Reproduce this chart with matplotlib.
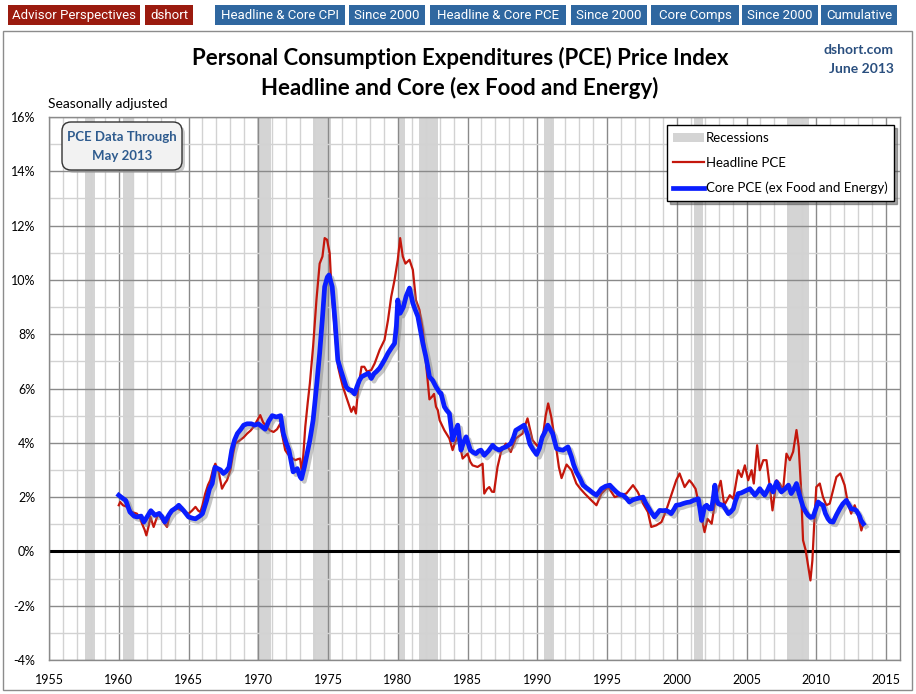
import matplotlib
matplotlib.use("Agg")
import matplotlib.pyplot as plt
import matplotlib.patheffects as pe
from matplotlib.patches import Rectangle, FancyBboxPatch, Patch
from matplotlib.lines import Line2D

# ---------------- data ----------------
core_years = [1960.0, 1960.3, 1960.5, 1960.8, 1961.1, 1961.3, 1961.6, 1961.8, 1962.0, 1962.3, 1962.6, 1962.9,
              1963.1, 1963.3, 1963.6, 1963.8, 1964.1, 1964.3, 1964.65, 1965.0, 1965.3, 1965.5, 1965.8, 1966.0,
              1966.3, 1966.5, 1966.7, 1966.9, 1967.1, 1967.3, 1967.5, 1967.7, 1967.9, 1968.1, 1968.3, 1968.5,
              1968.75, 1968.95, 1969.2, 1969.5, 1969.75, 1970.0, 1970.25, 1970.5, 1970.75, 1971.0, 1971.3, 1971.6,
              1971.8, 1972.0, 1972.2, 1972.4, 1972.5, 1972.8, 1973.0, 1973.1, 1973.3, 1973.5, 1973.7, 1973.93,
              1974.2, 1974.4, 1974.6, 1974.76, 1974.95, 1975.07, 1975.3, 1975.5, 1975.7, 1975.9, 1976.07, 1976.3,
              1976.5, 1976.67, 1976.9, 1977.07, 1977.25, 1977.4, 1977.65, 1977.9, 1978.1, 1978.3, 1978.46, 1978.7,
              1978.9, 1979.1, 1979.3, 1979.55, 1979.77, 1979.9, 1980.0, 1980.17, 1980.4, 1980.6, 1980.84, 1981.08,
              1981.25, 1981.44, 1981.6, 1981.8, 1982.0, 1982.15, 1982.27, 1982.5, 1982.74, 1983.0, 1983.1, 1983.34,
              1983.5, 1983.7, 1983.93, 1984.1, 1984.3, 1984.53, 1984.7, 1984.9, 1985.2, 1985.4, 1985.6, 1985.8,
              1985.96, 1986.2, 1986.5, 1986.8, 1987.0, 1987.27, 1987.5, 1987.75, 1988.1, 1988.3, 1988.46, 1988.75,
              1989.06, 1989.3, 1989.47, 1989.7, 1989.95, 1990.15, 1990.35, 1990.55, 1990.75, 1991.1, 1991.38, 1991.6,
              1991.85, 1992.2, 1992.45, 1992.6, 1992.8, 1993.05, 1993.28, 1993.5, 1993.76, 1994.0, 1994.24, 1994.6,
              1994.9, 1995.2, 1995.45, 1995.67, 1995.9, 1996.14, 1996.4, 1996.6, 1996.85, 1997.1, 1997.35, 1997.58,
              1997.75, 1997.93, 1998.15, 1998.4, 1998.6, 1998.77, 1999.0, 1999.24, 1999.45, 1999.6, 1999.8, 1999.96,
              2000.23, 2000.44, 2000.7, 2000.95, 2001.2, 2001.54, 2001.65, 2001.78, 2001.99, 2002.14, 2002.34, 2002.5,
              2002.65, 2002.73, 2002.85, 2002.97, 2003.15, 2003.33, 2003.5, 2003.7, 2003.85, 2004.05, 2004.2, 2004.4,
              2004.6, 2004.76, 2005.0, 2005.24, 2005.4, 2005.6, 2005.8, 2005.95, 2006.1, 2006.3, 2006.5, 2006.67,
              2006.9, 2007.15, 2007.3, 2007.5, 2007.75, 2008.0, 2008.2, 2008.4, 2008.58, 2008.8, 2009.05, 2009.25,
              2009.41, 2009.6, 2009.77, 2009.95, 2010.13, 2010.3, 2010.48, 2010.65, 2010.84, 2011.0, 2011.2, 2011.45,
              2011.68, 2011.9, 2012.15, 2012.3, 2012.5, 2012.7, 2012.87, 2013.1, 2013.2, 2013.37]
core_pce = [2.07, 1.95, 1.88, 1.45, 1.3, 1.27, 1.3, 1.08, 1.25, 1.5, 1.33, 1.4,
            1.27, 1.08, 1.35, 1.5, 1.6, 1.7, 1.5, 1.27, 1.22, 1.2, 1.3, 1.39,
            1.88, 2.3, 2.5, 3.1, 3.05, 3.0, 2.87, 2.95, 3.1, 3.73, 4.1, 4.34,
            4.5, 4.65, 4.7, 4.7, 4.65, 4.7, 4.6, 4.5, 4.8, 5.0, 4.95, 5.0,
            4.34, 4.0, 3.73, 3.2, 2.93, 3.05, 2.75, 2.68, 3.1, 3.6, 4.1, 4.83,
            6.2, 7.3, 8.6, 9.75, 10.1, 10.18, 9.75, 8.5, 7.05, 6.7, 6.43, 6.06,
            5.95, 5.94, 5.8, 6.06, 6.3, 6.43, 6.5, 6.56, 6.37, 6.55, 6.62, 6.75,
            6.92, 7.1, 7.3, 7.5, 7.66, 8.3, 9.26, 8.77, 9.0, 9.4, 9.7, 9.14,
            8.9, 8.65, 8.2, 7.66, 7.2, 6.8, 6.43, 6.3, 6.06, 5.85, 5.82, 5.33,
            5.2, 5.08, 4.1, 4.4, 4.65, 3.73, 4.0, 4.22, 3.73, 3.65, 3.6, 3.7,
            3.73, 3.54, 3.7, 3.91, 3.8, 3.73, 3.8, 3.85, 3.97, 4.2, 4.46, 4.55,
            4.65, 4.3, 3.95, 3.75, 3.57, 3.8, 4.2, 4.4, 4.65, 4.34, 3.79, 3.75,
            3.73, 3.85, 3.48, 3.2, 2.93, 2.7, 2.44, 2.35, 2.25, 2.15, 2.07, 2.31,
            2.4, 2.44, 2.3, 2.19, 2.1, 2.07, 1.95, 1.82, 1.9, 1.94, 1.97, 2.0,
            1.8, 1.64, 1.45, 1.27, 1.4, 1.51, 1.5, 1.51, 1.45, 1.39, 1.55, 1.7,
            1.72, 1.76, 1.8, 1.82, 1.88, 1.94, 1.6, 1.14, 1.64, 1.7, 1.57, 1.57,
            2.1, 2.44, 1.9, 1.76, 1.72, 1.7, 1.55, 1.39, 1.45, 1.57, 1.85, 2.13,
            2.15, 2.19, 2.25, 2.31, 2.2, 2.07, 2.2, 2.31, 2.2, 2.07, 2.25, 2.44,
            2.19, 2.56, 2.35, 2.19, 2.3, 2.44, 2.13, 2.3, 2.5, 2.07, 1.64, 1.45,
            1.33, 1.25, 1.27, 1.55, 1.82, 1.75, 1.7, 1.4, 1.2, 1.1, 1.08, 1.35,
            1.57, 1.75, 1.88, 1.75, 1.57, 1.55, 1.51, 1.3, 1.15, 1.02]

head_years = [1960.0, 1960.1, 1960.3, 1960.6, 1960.95, 1961.3, 1961.5, 1961.67, 1961.85, 1961.98, 1962.15, 1962.27,
              1962.5, 1962.7, 1962.86, 1963.05, 1963.2, 1963.46, 1963.7, 1964.06, 1964.3, 1964.5, 1964.75, 1965.0,
              1965.25, 1965.5, 1965.7, 1965.85, 1966.0, 1966.2, 1966.4, 1966.56, 1966.75, 1966.92, 1967.16, 1967.4,
              1967.6, 1967.76, 1968.0, 1968.2, 1968.35, 1968.7, 1968.95, 1969.2, 1969.45, 1969.67, 1969.9, 1970.14,
              1970.35, 1970.6, 1970.85, 1971.1, 1971.35, 1971.57, 1971.75, 1971.93, 1972.1, 1972.3, 1972.65, 1972.85,
              1973.0, 1973.13, 1973.25, 1973.37, 1973.55, 1973.7, 1973.93, 1974.17, 1974.4, 1974.6, 1974.76, 1974.93,
              1975.12, 1975.24, 1975.48, 1975.72, 1975.9, 1976.07, 1976.3, 1976.55, 1976.67, 1976.84, 1977.0, 1977.15,
              1977.4, 1977.6, 1977.8, 1978.1, 1978.34, 1978.7, 1979.05, 1979.3, 1979.53, 1979.77, 1980.0, 1980.17,
              1980.36, 1980.55, 1980.84, 1981.08, 1981.3, 1981.55, 1981.8, 1982.03, 1982.27, 1982.46, 1982.6, 1982.74,
              1982.87, 1983.0, 1983.34, 1983.7, 1983.93, 1984.1, 1984.3, 1984.5, 1984.65, 1985.0, 1985.2, 1985.36,
              1985.72, 1986.08, 1986.2, 1986.4, 1986.56, 1986.75, 1986.9, 1987.15, 1987.4, 1987.75, 1988.1, 1988.46,
              1988.7, 1988.94, 1989.1, 1989.3, 1989.66, 1990.0, 1990.2, 1990.42, 1990.6, 1990.78, 1991.0, 1991.2,
              1991.38, 1991.55, 1991.74, 1992.1, 1992.45, 1992.8, 1993.1, 1993.4, 1993.88, 1994.24, 1994.6, 1995.07,
              1995.3, 1995.55, 1995.9, 1996.38, 1996.86, 1997.2, 1997.58, 1997.93, 1998.17, 1998.53, 1998.9, 1999.24,
              1999.6, 1999.96, 2000.2, 2000.56, 2000.9, 2001.1, 2001.35, 2001.5, 2001.75, 2001.99, 2002.2, 2002.5,
              2002.8, 2003.15, 2003.4, 2003.8, 2004.05, 2004.4, 2004.64, 2004.88, 2005.12, 2005.36, 2005.52, 2005.76,
              2005.95, 2006.2, 2006.43, 2006.67, 2006.86, 2007.15, 2007.38, 2007.62, 2007.86, 2008.1, 2008.34, 2008.58,
              2008.74, 2008.9, 2009.05, 2009.24, 2009.41, 2009.58, 2009.72, 2009.84, 2010.0, 2010.25, 2010.48, 2010.72,
              2010.96, 2011.2, 2011.44, 2011.72, 2012.03, 2012.27, 2012.5, 2012.75, 2012.99, 2013.23, 2013.37]
headline_pce = [1.7, 1.82, 1.7, 1.64, 1.45, 1.39, 1.25, 1.02, 0.8, 0.59, 0.95, 1.27,
                0.9, 1.2, 1.39, 1.2, 1.08, 0.9, 1.45, 1.64, 1.55, 1.51, 1.45, 1.39,
                1.5, 1.64, 1.5, 1.45, 1.7, 2.13, 2.45, 2.62, 3.0, 3.23, 2.93, 2.31,
                2.5, 2.62, 2.99, 3.6, 3.97, 4.1, 4.2, 4.34, 4.45, 4.59, 4.8, 5.02,
                4.75, 4.59, 4.45, 4.4, 4.5, 4.7, 4.2, 3.73, 3.6, 3.48, 3.36, 3.4,
                3.42, 2.87, 3.7, 4.59, 5.5, 6.19, 7.54, 9.26, 10.6, 10.86, 11.54, 11.48,
                10.98, 9.75, 8.15, 6.8, 6.4, 6.06, 5.7, 5.33, 5.14, 5.33, 5.08, 5.94,
                6.8, 6.8, 6.62, 6.68, 6.92, 7.42, 7.79, 8.52, 9.38, 10.0, 10.74, 11.54,
                10.86, 10.6, 10.74, 10.37, 9.26, 8.9, 8.15, 6.92, 5.6, 5.7, 5.8, 5.33,
                5.2, 4.83, 4.46, 4.16, 3.73, 4.0, 4.22, 3.8, 3.42, 3.6, 3.3, 3.17,
                3.11, 3.23, 2.13, 2.3, 2.37, 2.2, 2.19, 3.11, 3.66, 3.97, 3.66, 4.16,
                4.25, 4.34, 4.6, 4.9, 4.1, 3.88, 4.0, 4.3, 5.0, 5.45, 4.96, 4.3,
                3.73, 3.1, 2.7, 3.2, 2.99, 2.5, 2.3, 2.13, 1.88, 1.7, 2.13, 2.37,
                2.2, 2.0, 2.07, 2.13, 2.44, 2.19, 1.76, 1.45, 0.9, 0.96, 1.08, 1.51,
                2.07, 2.62, 2.87, 2.37, 2.62, 2.5, 2.3, 1.94, 1.33, 0.71, 1.2, 1.02,
                2.0, 2.6, 1.7, 2.07, 1.94, 2.99, 2.74, 3.17, 2.62, 2.99, 2.5, 3.91,
                2.99, 3.36, 3.36, 2.37, 1.51, 2.62, 2.5, 2.25, 3.6, 3.36, 3.67, 4.47,
                3.85, 2.37, 0.41, 0.04, -0.52, -1.07, -0.33, 0.9, 2.37, 2.5, 2.0, 1.7,
                1.76, 2.25, 2.74, 2.87, 2.44, 1.76, 1.39, 1.7, 1.33, 0.77, 1.02]

recession_start = [1957.6, 1960.3, 1969.9, 1973.9, 1980.0, 1981.5, 1990.5, 2001.2, 2007.9]
recession_end = [1958.3, 1961.1, 1970.9, 1975.2, 1980.5, 1982.9, 1991.2, 2001.9, 2009.5]

y_ticks = [-4, -2, 0, 2, 4, 6, 8, 10, 12, 14, 16]
x_ticks = [1955, 1960, 1965, 1970, 1975, 1980, 1985, 1990, 1995, 2000, 2005, 2010, 2015]

nav_labels = ["Headline & Core CPI", "Since 2000", "Headline & Core PCE", "Since 2000",
              "Core Comps", "Since 2000", "Cumulative"]
nav_x = [(215, 345), (349, 425), (430, 566), (571, 647), (651, 739), (742, 818), (821, 897)]
brand_labels = ["Advisor Perspectives", "dshort"]
brand_x = [(8, 140), (145, 193)]

# ---------------- figure ----------------
W, H = 916, 694
fig = plt.figure(figsize=(W / 100, H / 100), dpi=100)
fig.patch.set_facecolor("white")
FONT = ["Lato", "DejaVu Sans"]
NARROW = ["Liberation Sans Narrow", "Roboto", "DejaVu Sans"]

# background overlay (pixel coords)
bg = fig.add_axes([0, 0, 1, 1], zorder=0)
bg.set_xlim(0, W)
bg.set_ylim(H, 0)
bg.axis("off")
bg.add_patch(Rectangle((3, 31), 909, 659, fill=False, ec="#8c8c8c", lw=1.0))
for (x0, x1), lab in zip(brand_x, brand_labels):
    bg.add_patch(Rectangle((x0, 5), x1 - x0, 20, fc="#9B1B0F", ec="none"))
    bg.text((x0 + x1) / 2, 15.5, lab, color="white", fontsize=9.5, ha="center", va="center",
            family=NARROW)
for (x0, x1), lab in zip(nav_x, nav_labels):
    bg.add_patch(Rectangle((x0, 5), x1 - x0, 20, fc="#2F67A0", ec="none"))
    bg.text((x0 + x1) / 2, 15.5, lab, color="white", fontsize=9.5, ha="center", va="center",
            family=NARROW)

bg.text(460, 58, "Personal Consumption Expenditures (PCE) Price Index", fontsize=16,
        fontweight="bold", ha="center", va="center", family=FONT, color="black")
bg.text(460, 88, "Headline and Core (ex Food and Energy)", fontsize=16,
        fontweight="bold", ha="center", va="center", family=FONT, color="black")
bg.text(894, 50, "dshort.com", fontsize=10, fontweight="bold", ha="right", va="center",
        family=FONT, color="#2A4F7F")
bg.text(894, 69, "June 2013", fontsize=10, fontweight="bold", ha="right", va="center",
        family=FONT, color="#2A4F7F")
bg.text(48, 104, "Seasonally adjusted", fontsize=10, ha="left", va="center", family=FONT,
        color="black")

# main axes
L, R, T, B = 49, 900, 117, 660
ax = fig.add_axes([L / W, 1 - B / H, (R - L) / W, (B - T) / H], zorder=1)
ax.set_xlim(1955, 2016)
ax.set_ylim(-4, 16)

for s, e in zip(recession_start, recession_end):
    ax.axvspan(s, e, color="#D4D4D4", lw=0, zorder=0.5)

# grid
for yr in range(1955, 2016):
    major = (yr % 5 == 0)
    ax.axvline(yr, color="#8a8a8a" if major else "#d2d2d2", lw=1.0, zorder=0.8)
for v in range(-4, 17):
    major = (v % 2 == 0)
    ax.axhline(v, color="#8a8a8a" if major else "#d2d2d2", lw=1.0, zorder=0.8)
ax.axhline(0, color="black", lw=2.2, zorder=1.5)

ax.plot(head_years, headline_pce, color="#C4170C", lw=1.6, zorder=3)
ax.plot(core_years, core_pce, color="#0A1EFF", lw=3.4, zorder=4,
        path_effects=[pe.SimpleLineShadow(offset=(2, -2), shadow_color="#808080", alpha=0.45),
                      pe.Normal()])

ax.set_xticks(x_ticks)
ax.set_xticklabels([str(t) for t in x_ticks])
ax.set_yticks(y_ticks)
ax.set_yticklabels([f"{t}%" for t in y_ticks])
ax.tick_params(length=0, labelsize=9, pad=10)
ax.tick_params(axis="y", pad=10)
for lab in ax.get_xticklabels() + ax.get_yticklabels():
    lab.set_family(FONT)
for sp in ax.spines.values():
    sp.set_color("#8a8a8a")
    sp.set_linewidth(1.0)

handles = [Patch(facecolor="#D4D4D4", edgecolor="none"),
           Line2D([], [], color="#C4170C", lw=1.6),
           Line2D([], [], color="#0A1EFF", lw=3.4)]
leg = ax.legend(handles, ["Recessions", "Headline PCE", "Core PCE (ex Food and Energy)"],
                loc="upper right", bbox_to_anchor=(0.993, 0.985), frameon=True, fancybox=False,
                shadow=True, edgecolor="black", handlelength=2.3,
                handletextpad=0.15, labelspacing=0.98, borderpad=0.5, borderaxespad=0,
                prop={"family": FONT, "size": 9.5})
leg.get_frame().set_linewidth(1.0)
leg.set_zorder(10)

# PCE Data box (overlay on top)
top = fig.add_axes([0, 0, 1, 1], zorder=5)
top.set_xlim(0, W)
top.set_ylim(H, 0)
top.axis("off")
top.patch.set_alpha(0)
top.add_patch(FancyBboxPatch((65, 125), 120, 48, boxstyle="round,pad=0,rounding_size=9",
                             fc="#9a9a9a", ec="none", alpha=0.5))
top.add_patch(FancyBboxPatch((62, 122), 120, 48, boxstyle="round,pad=0,rounding_size=9",
                             fc="#F2F2F2", ec="#333333", lw=1.0))
top.text(122, 137, "PCE Data Through", fontsize=9.5, fontweight="bold", ha="center", va="center",
         family=FONT, color="#2E5B8E")
top.text(122, 156, "May 2013", fontsize=9.5, fontweight="bold", ha="center", va="center",
         family=FONT, color="#2E5B8E")

fig.savefig("out.png", dpi=100)
